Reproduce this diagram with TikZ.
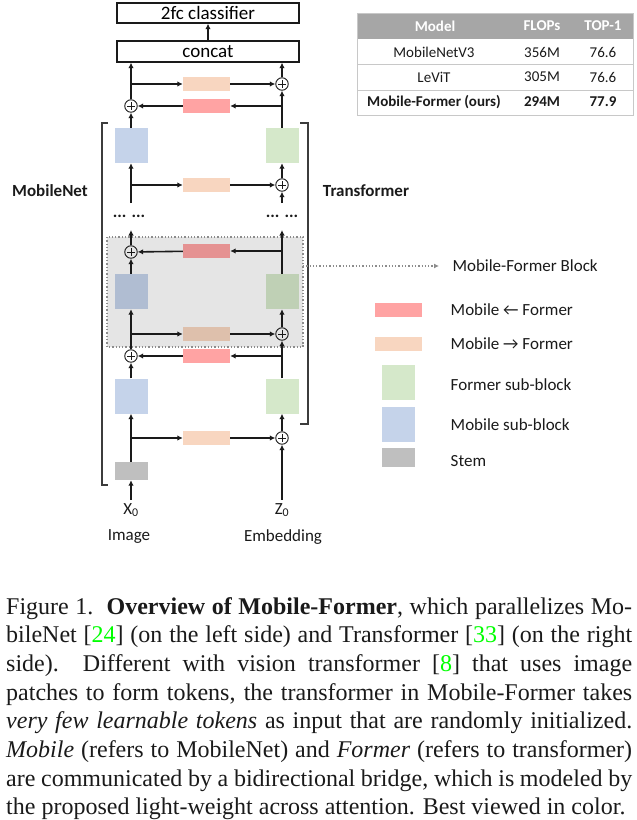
\documentclass[tikz,border=0pt]{standalone}
\usepackage{fontspec}
\setmainfont{Carlito}
\newfontfamily\capfont{Liberation Serif}
\usetikzlibrary{positioning,arrows.meta,calc}
\usepackage{xcolor}
\definecolor{mobBlue}{HTML}{C5D3EA}
\definecolor{formGreen}{HTML}{D5E8CA}
\definecolor{backRed}{HTML}{FFA3A3}
\definecolor{fwdOrange}{HTML}{F8D6C0}
\definecolor{stemGray}{HTML}{BFBFBF}
\definecolor{headGray}{HTML}{A6A6A6}
\definecolor{lineGray}{HTML}{C8C8C8}
\definecolor{dotGray}{HTML}{8C8C8C}
\definecolor{citeGreen}{HTML}{00FF00}
\definecolor{ink}{HTML}{1A1A1A}

\tikzset{
  subblk/.style={minimum width=33bp, minimum height=35bp, inner sep=0pt},
  mob/.style={subblk, fill=mobBlue},
  form/.style={subblk, fill=formGreen},
  bridge/.style={minimum width=47bp, minimum height=14bp, inner sep=0pt},
  m2f/.style={bridge, fill=fwdOrange},
  f2m/.style={bridge, fill=backRed},
  add/.style={circle, draw=ink, line width=0.9bp, minimum size=12.5bp, inner sep=0pt,
    path picture={
      \draw[line width=0.8bp] ([yshift=-2.5bp]path picture bounding box.north) -- ([yshift=2.5bp]path picture bounding box.south);
      \draw[line width=0.8bp] ([xshift=2.5bp]path picture bounding box.west) -- ([xshift=-2.5bp]path picture bounding box.east);
    }},
  flow/.style={draw=ink, line width=1.6bp, -{Latex[length=5.5bp, width=5.5bp]}},
  topbox/.style={draw=ink, line width=1.3bp, minimum width=182bp, minimum height=20bp, inner sep=0pt,
    font=\fontsize{19bp}{22bp}\selectfont},
  lbl/.style={font=\fontsize{17bp}{20bp}\selectfont, text=ink},
  cell/.style={font=\fontsize{15bp}{18bp}\selectfont, text=ink, inner sep=0pt},
  hcell/.style={cell, font=\fontsize{15bp}{18bp}\selectfont\bfseries, text=white},
  brk/.style={draw=ink!85, line width=1.4bp},
}

\begin{document}
\begin{tikzpicture}[x=1bp, y=-1bp]
\useasboundingbox (0,0) rectangle (637,820);

% head of the network
\node[topbox] (cls) at (208,13) {2fc classifier};
\node[topbox, minimum height=21bp] (cat) at (208,51.5) {concat};

% last block
\node[m2f] (tA) at (206.5,84) {};
\node[f2m] (bA) at (206.5,106) {};
\node[add] (pfA) at (282,84) {};
\node[add] (pmA) at (131,106) {};
\node[mob] (mA) at (131,145.5) {};
\node[form] (fA) at (282,145.5) {};
\node[m2f] (tA0) at (206.5,185) {};
\node[add] (pfA0) at (282,185) {};
\coordinate (mAin) at (131,203);
\coordinate (fAin) at (282,203);

\node[lbl, font=\fontsize{17bp}{20bp}\selectfont\bfseries] (dotL) at (129,216) {... ...};
\node[lbl, font=\fontsize{17bp}{20bp}\selectfont\bfseries] (dotR) at (282,216) {... ...};
\coordinate (mBout) at (131,230);
\coordinate (fBout) at (282,230);

% Mobile-Former block
\node[f2m] (bB) at (206.5,251) {};
\node[add] (pmB) at (131,252) {};
\node[mob] (mB) at (131,291.5) {};
\node[form] (fB) at (282,291.5) {};
\node[m2f] (tB) at (206.5,334) {};
\node[add] (pfB) at (282,334) {};

% first block
\node[f2m] (bC) at (206.5,356) {};
\node[add] (pmC) at (131,356) {};
\node[mob] (mC) at (131,396) {};
\node[form] (fC) at (282,396) {};
\node[m2f] (tC) at (206.5,438) {};
\node[add] (pfC) at (282,438) {};
\node[fill=stemGray, minimum width=33bp, minimum height=18bp, inner sep=0pt] (stem) at (131,471) {};

% inputs
\node[lbl] (x0) at (131,510) {X\textsubscript{0}};
\node[lbl] (z0) at (282,510) {Z\textsubscript{0}};
\node[lbl] (img) at (129,537) {Image};
\node[lbl] (emb) at (283,537) {Embedding};

% shaded block region
\coordinate (blkNW) at (107,237);
\coordinate (blkSE) at (303,347);
\draw[dotGray, dotted, line width=1.3bp, fill=black, fill opacity=0.1] (blkNW) rectangle (blkSE);

% brackets
\draw[brk] (108,123) -- (102,123) -- (102,485) -- (108,485);
\draw[brk] (300,123) -- (308,123) -- (308,424) -- (300,424);
\node[lbl, font=\fontsize{17bp}{20bp}\selectfont\bfseries] (mnet) at (50,191) {MobileNet};
\node[lbl, font=\fontsize{17bp}{20bp}\selectfont\bfseries] (tfm) at (366,191) {Transformer};

% connections, top
\draw[flow] (cat) -- (cls);
\draw[flow] (pmA) -- (pmA |- cat.south);
\draw[flow] (pfA) -- (pfA |- cat.south);
\draw[flow] (tA -| pmA) -- (tA);
\draw[flow] (tA) -- (pfA);
\draw[flow] (fA) -- (pfA);
\draw[flow] (bA -| fA) -- (bA);
\draw[flow] (bA) -- (pmA);
\draw[flow] (mA) -- (pmA);
\draw[flow] (mAin) -- (mA);
\draw[flow] (tA0 -| mA) -- (tA0);
\draw[flow] (tA0) -- (pfA0);
\draw[flow] (fAin) -- (pfA0);
\draw[flow] (pfA0) -- (fA);

% connections, middle
\draw[flow] (pmB) -- (mBout);
\draw[flow] (fB) -- (fBout);
\draw[flow] (bB -| fB) -- (bB);
\draw[flow] (bB) -- (pmB);
\draw[flow] (mB) -- (pmB);
\draw[flow] (tB -| mB) -- (tB);
\draw[flow] (tB) -- (pfB);
\draw[flow] (pfB) -- (fB);
\draw[flow] (pmC) -- (mB);
\draw[flow] (fC) -- (pfB);

% connections, bottom
\draw[flow] (bC -| fC) -- (bC);
\draw[flow] (bC) -- (pmC);
\draw[flow] (mC) -- (pmC);
\draw[flow] (tC -| mC) -- (tC);
\draw[flow] (tC) -- (pfC);
\draw[flow] (pfC) -- (fC);
\draw[flow] (stem) -- (mC);
\draw[flow] (x0) -- (stem);
\draw[flow] (z0) -- (pfC);

% legend
\node[lbl, anchor=west] (lgBlk) at (449,266) {Mobile-Former Block};
\draw[dotGray, dotted, line width=1.3bp, -{Latex[length=5bp, width=5bp]}, shorten >=10bp] (lgBlk.west -| blkSE) -- (lgBlk.west);
\node[f2m] (lgF2m) at (398.5,310) {};
\node[lbl, right=25bp of lgF2m] (lgF2mT) {Mobile ← Former};
\node[m2f] (lgM2f) at (398.5,343.5) {};
\node[lbl, right=25bp of lgM2f] (lgM2fT) {Mobile → Former};
\node[form] (lgForm) at (398.5,382.5) {};
\node[lbl, right=32bp of lgForm, yshift=-2bp] (lgFormT) {Former sub-block};
\node[mob] (lgMob) at (398.5,424.5) {};
\node[lbl, right=32bp of lgMob] (lgMobT) {Mobile sub-block};
\node[fill=stemGray, minimum width=33bp, minimum height=19bp, inner sep=0pt] (lgStem) at (398.5,457.5) {};
\node[lbl, right=32bp of lgStem, yshift=-4bp] (lgStemT) {Stem};

% table
\fill[headGray] (357,13) rectangle (633,39);
\draw[lineGray, line width=0.8bp] (357,64) -- (633,64);
\draw[lineGray, line width=0.8bp] (357,90) -- (633,90);
\draw[lineGray, line width=0.8bp] (357,13) rectangle (633,115);
\node[hcell] (hModel) at (435,26) {Model};
\node[hcell] (hFlops) at (542,26) {FLOPs};
\node[hcell] (hTop) at (603,26) {TOP-1};
\node[cell] (r1m) at (434,52) {MobileNetV3};
\node[cell] (r1f) at (542,52) {356M};
\node[cell] (r1t) at (603,52) {76.6};
\node[cell] (r2m) at (434,77) {LeViT};
\node[cell] (r2f) at (542,77) {305M};
\node[cell] (r2t) at (603,77) {76.6};
\node[cell, font=\fontsize{15bp}{18bp}\selectfont\bfseries] (r3m) at (434,102) {Mobile-Former (ours)};
\node[cell, font=\fontsize{15bp}{18bp}\selectfont\bfseries] (r3f) at (542,102) {294M};
\node[cell, font=\fontsize{15bp}{18bp}\selectfont\bfseries] (r3t) at (603,102) {77.9};

% caption
\node[anchor=base west, inner sep=0pt, text width=626bp, align=justify,
  font=\capfont\fontsize{24bp}{28.7bp}\selectfont, text=ink] (caption) at (6,614)
  {Figure 1.\ \ \textbf{Overview of Mobile-Former}, which parallelizes Mo-\linebreak
   bileNet [\textcolor{citeGreen}{24}] (on the left side) and Transformer [\textcolor{citeGreen}{33}] (on the right\linebreak
   side).\ \ Different with vision transformer [\textcolor{citeGreen}{8}] that uses image\linebreak
   patches to form tokens, the transformer in Mobile-Former takes\linebreak
   \textit{very few learnable tokens} as input that are randomly initialized.\linebreak
   \textit{Mobile} (refers to MobileNet) and \textit{Former} (refers to transformer)\linebreak
   are communicated by a bidirectional bridge, which is modeled by\linebreak
   the proposed light-weight across attention. Best viewed in color.};
\end{tikzpicture}
\end{document}
